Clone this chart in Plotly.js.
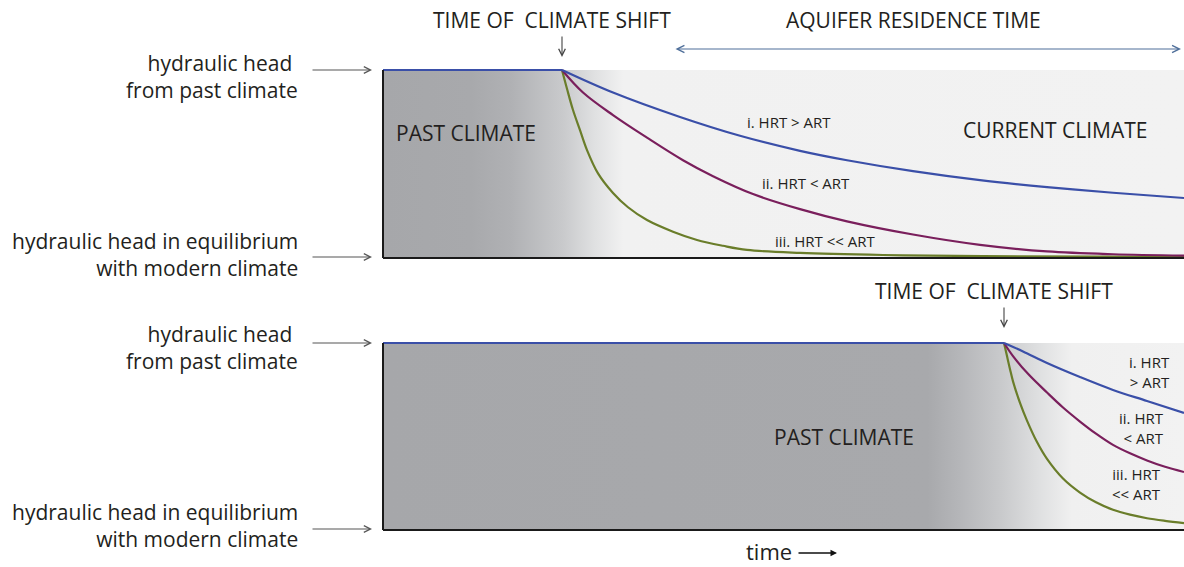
<!DOCTYPE html>
<html>
<head>
<meta charset="utf-8">
<script src="https://cdn.plot.ly/plotly-3.0.1.min.js"></script>
<style>html,body{margin:0;padding:0;background:#fff;}#chart{width:1184px;height:567px;}</style>
</head>
<body>
<div id="chart"></div>
<script>
// ---- data (time in arbitrary units, head normalised: 1 = past-climate head, 0 = equilibrium) ----
// Top panel: climate shift early, long observed record
var topShift = 179;
var topBlueT   = [0, 179, 230, 297, 357, 417, 464, 530, 597, 664, 730, 801];
var topBlueH   = [1, 1, 0.88, 0.75, 0.65, 0.57, 0.52, 0.462, 0.414, 0.377, 0.347, 0.319];
var topPurpleT = [0, 179, 200, 230, 264, 300, 330, 370, 417, 464, 530, 597, 664, 730, 801];
var topPurpleH = [1, 1, 0.88, 0.76, 0.64, 0.52, 0.435, 0.34, 0.26, 0.195, 0.125, 0.07, 0.035, 0.02, 0.013];
var topGreenT  = [0, 179, 184, 190, 197, 204, 215, 230, 245, 264, 290, 314, 340, 364, 417, 500, 600, 801];
var topGreenH  = [1, 1, 0.90, 0.787, 0.68, 0.574, 0.45, 0.346, 0.27, 0.202, 0.14, 0.096, 0.065, 0.043, 0.027, 0.016, 0.01, 0.006];
// Bottom panel: climate shift late, only the start of the response is seen
var botShift = 621;
var botBlueT   = [0, 621, 640, 664, 697, 730, 764, 801];
var botBlueH   = [1, 1, 0.955, 0.893, 0.818, 0.749, 0.69, 0.626];
var botPurpleT = [0, 621, 630, 645, 664, 680, 697, 713, 730, 747, 764, 782, 801];
var botPurpleH = [1, 1, 0.93, 0.835, 0.735, 0.655, 0.58, 0.515, 0.455, 0.41, 0.372, 0.338, 0.31];
var botGreenT  = [0, 621, 624, 627, 630, 637, 644, 654, 664, 680, 697, 713, 730, 747, 764, 782, 801];
var botGreenH  = [1, 1, 0.93, 0.86, 0.795, 0.68, 0.585, 0.47, 0.38, 0.275, 0.2, 0.148, 0.108, 0.082, 0.063, 0.049, 0.037];
var timeSpan = [0, 801];
var headSpan = [0, 1];

var curveNames = ['i. HRT > ART', 'ii. HRT < ART', 'iii. HRT << ART'];
var colBlue = '#3a4fa8', colPurple = '#7a1f5c', colGreen = '#6a7d2a';

function bgTrace(xa, ya, scale) {
  return {
    x: [timeSpan[0], timeSpan[1], timeSpan[1], timeSpan[0], timeSpan[0]],
    y: [headSpan[0], headSpan[0], headSpan[1], headSpan[1], headSpan[0]],
    xaxis: xa, yaxis: ya, mode: 'lines', line: {width: 0}, fill: 'toself',
    fillgradient: {type: 'horizontal', colorscale: scale},
    hoverinfo: 'skip', showlegend: false
  };
}
// each curve: flat (linear) part up to the climate shift, then a smooth decay
function curve(t, h, col, xa, ya, nm) {
  return [
    {x: t.slice(0, 2), y: h.slice(0, 2), xaxis: xa, yaxis: ya, mode: 'lines', name: nm,
     line: {color: col, width: 2.2}, hoverinfo: 'skip', showlegend: false},
    {x: t.slice(1), y: h.slice(1), xaxis: xa, yaxis: ya, mode: 'lines', name: nm,
     line: {color: col, width: 2.2, shape: 'spline', smoothing: 1},
     hoverinfo: 'skip', showlegend: false}
  ];
}

var topScale = [[0, '#a6a7aa'], [0.11, '#a8a9ac'], [0.16, '#b0b1b4'], [0.225, '#c9cacc'], [0.265, '#e0e1e2'], [0.30, '#f1f1f1'], [1, '#f2f2f2']];
var botScale = [[0, '#a6a7aa'], [0.68, '#a8a9ac'], [0.72, '#b5b6b9'], [0.77, '#c8c9cb'], [0.82, '#dfe0e1'], [0.86, '#f0f0f0'], [1, '#f2f2f2']];

var data = [].concat(
  [bgTrace('x', 'y', topScale)],
  curve(topGreenT, topGreenH, colGreen, 'x', 'y', curveNames[2]),
  curve(topPurpleT, topPurpleH, colPurple, 'x', 'y', curveNames[1]),
  curve(topBlueT, topBlueH, colBlue, 'x', 'y', curveNames[0]),
  [bgTrace('x2', 'y2', botScale)],
  curve(botGreenT, botGreenH, colGreen, 'x2', 'y2', curveNames[2]),
  curve(botPurpleT, botPurpleH, colPurple, 'x2', 'y2', curveNames[1]),
  curve(botBlueT, botBlueH, colBlue, 'x2', 'y2', curveNames[0])
);

// pixel -> paper helpers for labels
var ML = 381, MT = 60, MB = 30, W = 1184, H = 567;
var PW = W - ML, PH = H - MT - MB;
function px(x) { return (x - ML) / PW; }
function py(y) { return (H - MB - y) / PH; }

var FONT = 'Open Sans, Noto Sans, sans-serif';
var TXT = '#231f20';
function lab(x, y, text, size, xanchor, align) {
  return {xref: 'paper', yref: 'paper', x: px(x), y: py(y), text: text, showarrow: false,
          xanchor: xanchor || 'center', yanchor: 'middle', align: align || 'center',
          font: {family: FONT, size: size, color: TXT}};
}
function arr(x0, y0, x1, y1, col, w, head, size, both) {
  var a = {xref: 'paper', yref: 'paper', x: px(x1), y: py(y1), axref: 'pixel', ayref: 'pixel',
           ax: x0 - x1, ay: y0 - y1, text: '', showarrow: true, arrowcolor: col,
           arrowwidth: w, arrowhead: head, arrowsize: size};
  if (both) { a.arrowside = 'end+start'; a.startarrowhead = head; a.startarrowsize = size; }
  return a;
}

var annotations = [
  lab(552, 20, 'TIME OF\u00a0 CLIMATE SHIFT', 21),
  arr(562, 35, 562, 57, '#444', 1.1, 5, 1.2),
  lab(913, 20, 'AQUIFER RESIDENCE TIME', 21),
  arr(674, 49, 1181, 49, '#4f6f9a', 1.2, 5, 1.2, true),
  lab(300, 76, 'hydraulic head\u00a0<br>from past climate', 21, 'right', 'right'),
  lab(300, 254, 'hydraulic head in equilibrium<br>with modern climate', 21, 'right', 'right'),
  arr(311, 70, 372, 70, '#555', 1.1, 5, 1.2),
  arr(311, 257, 372, 257, '#555', 1.1, 5, 1.2),
  lab(466, 133, 'PAST CLIMATE', 21),
  lab(1055, 130, 'CURRENT CLIMATE', 21),
  lab(745, 122, 'i. HRT &gt; ART', 15, 'left'),
  lab(760, 183, 'ii. HRT &lt; ART', 15, 'left'),
  lab(773, 241, 'iii. HRT &lt;&lt; ART', 15, 'left'),
  lab(994, 291, 'TIME OF\u00a0 CLIMATE SHIFT', 21),
  arr(1004, 306, 1004, 328, '#444', 1.1, 5, 1.2),
  lab(300, 347, 'hydraulic head\u00a0<br>from past climate', 21, 'right', 'right'),
  lab(300, 525, 'hydraulic head in equilibrium<br>with modern climate', 21, 'right', 'right'),
  arr(311, 343, 372, 343, '#555', 1.1, 5, 1.2),
  arr(311, 529, 372, 529, '#555', 1.1, 5, 1.2),
  lab(844, 437, 'PAST CLIMATE', 21),
  lab(1172, 372, 'i. HRT<br>&gt; ART', 15, 'right', 'right'),
  lab(1166, 428, 'ii. HRT<br>&lt; ART', 15, 'right', 'right'),
  lab(1163, 484, 'iii. HRT<br>&lt;&lt; ART', 15, 'right', 'right'),
  lab(769, 551, 'time', 22),
  arr(797, 553, 837, 553, '#111', 1.3, 2, 1.0)
];

var shapes = [];
[['x', 'y'], ['x2', 'y2']].forEach(function (ax) {
  shapes.push({type: 'line', xref: ax[0], yref: ax[1], x0: timeSpan[0], x1: timeSpan[1], y0: 0, y1: 0,
               line: {color: '#1a1a1a', width: 2}, layer: 'above'});
  shapes.push({type: 'line', xref: ax[0], yref: ax[1], x0: 0, x1: 0, y0: 0, y1: 1,
               line: {color: '#1a1a1a', width: 2}, layer: 'above'});
});

var hidden = {visible: false, fixedrange: true};
var layout = {
  width: W, height: H,
  margin: {l: ML, r: 0, t: MT, b: MB, pad: 0},
  paper_bgcolor: '#ffffff', plot_bgcolor: 'rgba(0,0,0,0)',
  showlegend: false,
  xaxis: Object.assign({range: [-2, 801], anchor: 'y'}, hidden),
  yaxis: Object.assign({range: [-0.015, 1.015], domain: [0.5790, 0.9850], anchor: 'x'}, hidden),
  xaxis2: Object.assign({range: [-2, 801], anchor: 'y2'}, hidden),
  yaxis2: Object.assign({range: [-0.015, 1.015], domain: [0.0088, 0.4126], anchor: 'x2'}, hidden),
  annotations: annotations,
  shapes: shapes
};
Plotly.newPlot('chart', data, layout, {staticPlot: true, displayModeBar: false});
</script>
</body>
</html>
